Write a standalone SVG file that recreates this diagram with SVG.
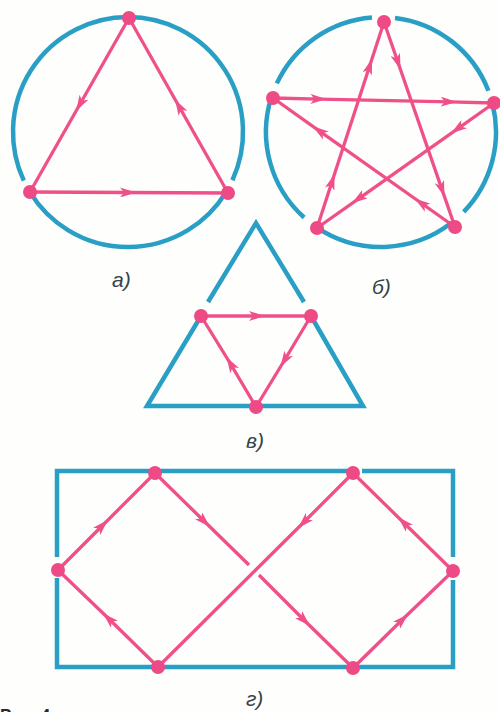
<svg xmlns="http://www.w3.org/2000/svg" width="500" height="712" viewBox="0 0 500 712">
<defs>
<marker id="arr" viewBox="0 0 16 10" refX="9" refY="5" markerWidth="16" markerHeight="10" markerUnits="userSpaceOnUse" orient="auto">
<path d="M0,0 L16,5 L0,10 L4,5 z" fill="#f0508a"/>
</marker>
<style>
.frame{fill:none;stroke:#2a9fc6;stroke-width:4.5;stroke-linecap:butt;stroke-linejoin:miter}
.edge{fill:none;stroke:#f0508a;stroke-width:3.3;marker-mid:url(#arr)}
.dot{fill:#ee4a86}
.lbl{font-family:"Liberation Sans","DejaVu Sans",sans-serif;font-style:italic;font-size:21px;fill:#34444c}
</style>
</defs>
<rect width="500" height="712" fill="#fefefc"/>

<!-- Panel a -->
<g id="panel-a-frame">
<path class="frame" d="M226.2 191.9 A115 115 0 0 1 29.95 192.1"/>
<path class="frame" d="M23.8 180.6 A115 115 0 1 1 232.4 180.2"/>
</g>
<g id="connectors-a">
<path class="edge" d="M129 18 L79.5 105 L30 192"/>
<path class="edge" d="M30 192 L129 192.5 L228 193"/>
<path class="edge" d="M228 193 L178.5 105.5 L129 18"/>
</g>
<g id="nodes-a">
<circle class="dot" cx="129" cy="18" r="7"/>
<circle class="dot" cx="30" cy="192" r="7"/>
<circle class="dot" cx="228" cy="193" r="7"/>
</g>
<text class="lbl" x="112" y="287">а)</text>

<!-- Panel b -->
<g id="panel-b-frame">
<path class="frame" d="M395 17.9 A115 115 0 0 1 488.4 90.8"/>
<path class="frame" d="M492.4 103.4 A115 115 0 0 1 463.7 211.9"/>
<path class="frame" d="M451.8 222.6 A115 115 0 0 1 316.7 227.3"/>
<path class="frame" d="M304.1 217.5 A115 115 0 0 1 271.3 97.4"/>
<path class="frame" d="M276.8 83.4 A115 115 0 0 1 372 17.4"/>
</g>
<g id="connectors-b">
<path class="edge" d="M273 98 L319.4 99.1 L449.8 101.9 L494 103"/>
<path class="edge" d="M494 103 L456.8 129.3 L357.7 199.3 L317 228"/>
<path class="edge" d="M317 228 L332.4 180.6 L369.9 65.3 L384 22"/>
<path class="edge" d="M384 22 L398.2 63 L442.2 190.1 L455 227"/>
<path class="edge" d="M455 227 L420.4 202.5 L318.5 130.3 L273 98"/>
</g>
<g id="nodes-b">
<circle class="dot" cx="384" cy="22" r="7"/>
<circle class="dot" cx="273" cy="98" r="7"/>
<circle class="dot" cx="494" cy="103" r="7"/>
<circle class="dot" cx="317" cy="228" r="7"/>
<circle class="dot" cx="455" cy="227" r="7"/>
</g>
<text class="lbl" x="372" y="294">б)</text>

<!-- Panel c -->
<g id="panel-c-frame">
<path class="frame" d="M208 302 L256 223 L304 302"/>
<path class="frame" d="M201 316 L147 406 L363 406 L311 316"/>
</g>
<g id="connectors-c">
<path class="edge" d="M201 316 L258 316 L311 316"/>
<path class="edge" d="M311 316 L284 361 L256 407"/>
<path class="edge" d="M256 407 L230 363 L201 316"/>
</g>
<g id="nodes-c">
<circle class="dot" cx="201" cy="316" r="7"/>
<circle class="dot" cx="311" cy="316" r="7"/>
<circle class="dot" cx="256" cy="407" r="7"/>
</g>
<text class="lbl" x="246" y="448">в)</text>

<!-- Panel d -->
<g id="panel-d-frame">
<path class="frame" d="M57 557 V471 H352"/>
<path class="frame" d="M362 471 H453 V557"/>
<path class="frame" d="M57 578 V667 H453 V580"/>
</g>
<g id="connectors-d">
<path class="edge" d="M58 570 L103 525 L155 473"/>
<path class="edge" d="M155 473 L205 522 L249 565"/>
<path class="edge" d="M259 575 L305 621 L353 668"/>
<path class="edge" d="M353 668 L403 619 L453 571"/>
<path class="edge" d="M453 571 L403 522 L353 473"/>
<path class="edge" d="M353 473 L303 523 L158 667"/>
<path class="edge" d="M158 667 L108 618 L58 570"/>
</g>
<g id="nodes-d">
<circle class="dot" cx="58" cy="570" r="7"/>
<circle class="dot" cx="155" cy="473" r="7"/>
<circle class="dot" cx="158" cy="667" r="7"/>
<circle class="dot" cx="353" cy="473" r="7"/>
<circle class="dot" cx="453" cy="571" r="7"/>
<circle class="dot" cx="353" cy="668" r="7"/>
</g>
<text class="lbl" x="246" y="706">г)</text>
<text x="0" y="721" font-family="Liberation Sans, sans-serif" font-size="17" font-weight="bold" fill="#2a2a2a">Рис. 4</text>
</svg>
